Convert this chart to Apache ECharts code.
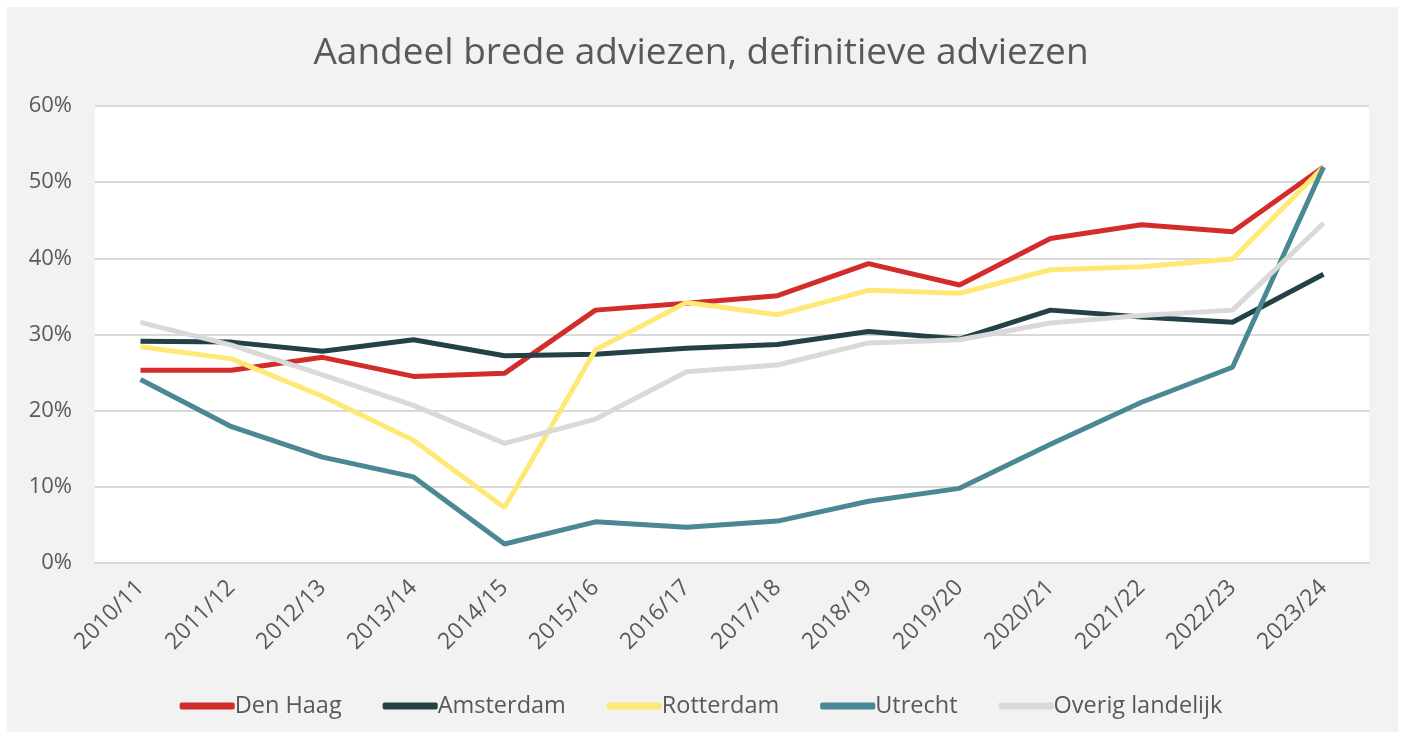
<!DOCTYPE html>
<html>
<head>
<meta charset="utf-8">
<script src="https://cdn.jsdelivr.net/npm/echarts@6/dist/echarts.min.js"></script>
<style>
  html, body { margin: 0; padding: 0; background: #fff; }
  #chart { width: 1402px; height: 738px; }
</style>
</head>
<body>
<div id="chart"></div>
<script>
const years = ["2010/11", "2011/12", "2012/13", "2013/14", "2014/15", "2015/16", "2016/17",
  "2017/18", "2018/19", "2019/20", "2020/21", "2021/22", "2022/23", "2023/24"];
const denHaag = [25.3, 25.3, 27.0, 24.5, 24.9, 33.2, 34.1, 35.1, 39.3, 36.5, 42.6, 44.4, 43.5, 52.0];
const amsterdam = [29.1, 29.0, 27.8, 29.3, 27.2, 27.4, 28.2, 28.7, 30.4, 29.4, 33.2, 32.3, 31.6, 37.9];
const rotterdam = [28.4, 26.8, 21.9, 16.1, 7.3, 28.0, 34.2, 32.6, 35.8, 35.4, 38.5, 38.9, 39.9, 52.0];
const utrecht = [24.1, 17.9, 13.9, 11.3, 2.5, 5.4, 4.7, 5.5, 8.1, 9.8, 15.6, 21.1, 25.7, 52.0];
const overig = [31.6, 28.6, 24.7, 20.7, 15.7, 18.9, 25.1, 26.0, 28.9, 29.3, 31.5, 32.5, 33.2, 44.6];

const textColor = "#595959";
const font = "'Open Sans', 'Noto Sans', sans-serif";

var chart = echarts.init(document.getElementById("chart"));

function line(name, data, color) {
  return {
    name: name,
    type: "line",
    data: data,
    symbol: "none",
    lineStyle: { color: color, width: 5 },
    itemStyle: { color: color },
    animation: false
  };
}

chart.setOption({
  textStyle: { fontFamily: font },
  graphic: [{
    type: "rect",
    left: 7, top: 7,
    shape: { width: 1391, height: 725 },
    style: { fill: "#f2f2f2" },
    z: -10
  }],
  title: {
    text: "Aandeel brede adviezen, definitieve adviezen",
    left: "center",
    top: 30,
    textStyle: { color: textColor, fontSize: 37, fontWeight: "normal", fontFamily: font }
  },
  legend: {
    bottom: 15,
    left: "center",
    icon: "roundRect",
    itemWidth: 55,
    itemHeight: 7,
    itemGap: 41,
    textStyle: { color: textColor, fontSize: 23.5, padding: [0, 0, 0, -5] },
    data: ["Den Haag", "Amsterdam", "Rotterdam", "Utrecht", "Overig landelijk"]
  },
  grid: {
    left: 95,
    right: 33,
    top: 106,
    bottom: 175,
    show: true,
    backgroundColor: "#fff",
    borderWidth: 0
  },
  xAxis: {
    type: "category",
    data: years,
    boundaryGap: true,
    axisLine: { show: true, lineStyle: { color: "#d9d9d9", width: 2 } },
    axisTick: { show: false },
    axisLabel: { color: textColor, fontSize: 23, rotate: 45, margin: 21, interval: 0 }
  },
  yAxis: {
    type: "value",
    min: 0,
    max: 60,
    interval: 10,
    axisLine: { show: false },
    axisTick: { show: false },
    splitLine: { lineStyle: { color: "#d9d9d9", width: 2 } },
    axisLabel: { color: textColor, fontSize: 22, margin: 23, formatter: "{value}%" }
  },
  series: [
    line("Den Haag", denHaag, "#d42b2b"),
    line("Amsterdam", amsterdam, "#234147"),
    line("Rotterdam", rotterdam, "#ffe976"),
    line("Utrecht", utrecht, "#4a8893"),
    line("Overig landelijk", overig, "#d9d9d9")
  ]
});
</script>
</body>
</html>
